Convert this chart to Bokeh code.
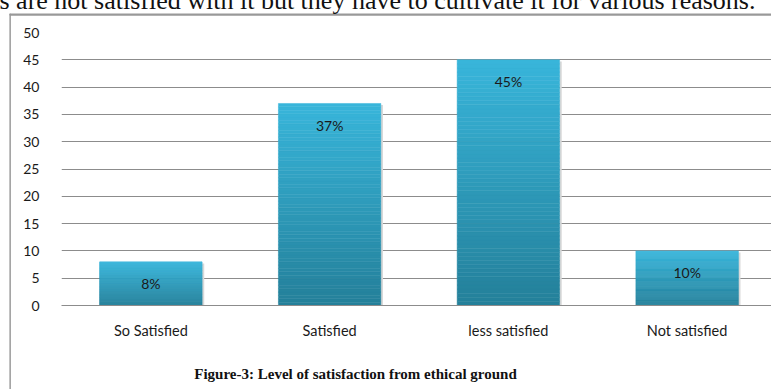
from bokeh.plotting import figure
from bokeh.models import Range1d, FixedTicker, Label
from bokeh.embed import file_html
from bokeh.resources import INLINE

cats = ["So Satisfied", "Satisfied", "less satisfied", "Not satisfied"]
values = [8, 37, 45, 10]
labels = ["8%", "37%", "45%", "10%"]
y_ticks = [0, 5, 10, 15, 20, 25, 30, 35, 40, 45, 50]
title_text = "Figure-3: Level of satisfaction from ethical ground"
above_text = "s are not satisfied with it but they have to cultivate it for various reasons."

W, H = 771, 389
p = figure(width=W, height=H, output_backend="svg", toolbar_location=None,
           x_range=Range1d(0, 3.972), y_range=Range1d(0, 50),
           min_border_left=61, min_border_right=0, min_border_top=32, min_border_bottom=84)
p.background_fill_color = "white"
p.border_fill_color = "white"
p.outline_line_color = None

xs = [i + 0.5 for i in range(len(cats))]
bw = 0.573

# gradient-filled bars built from slices of each value
top_c = (0x38, 0xb5, 0xda)
bot_c = (0x24, 0x80, 0x9a)
N = 60
L, R, B, T, C = [], [], [], [], []
for x, v in zip(xs, values):
    for k in range(N):
        f = k / (N - 1)
        col = tuple(int(round(bot_c[j] + (top_c[j] - bot_c[j]) * f)) for j in range(3))
        L.append(x - bw / 2); R.append(x + bw / 2)
        B.append(v * k / N); T.append(v * (k + 1) / N)
        C.append("#%02x%02x%02x" % col)
# soft shadow on right
p.quad(left=[x + bw / 2 for x in xs], right=[x + bw / 2 + 0.012 for x in xs],
       bottom=[0] * len(xs), top=[v - 0.3 for v in values], fill_color="#d8d8d8",
       line_color=None)
p.quad(left=L, right=R, bottom=B, top=T, fill_color=C, line_color=C, line_width=0.5)

p.text(x=xs, y=values, text=labels, text_align="center", text_baseline="middle",
       y_offset=22, text_font_size="14px", text_color="#1a1a1a",
       text_font={"value": "Lato"})

p.xaxis.ticker = FixedTicker(ticks=xs)
p.xaxis.major_label_overrides = {x: c for x, c in zip(xs, cats)}
p.xaxis.major_tick_line_color = None
p.xaxis.minor_tick_line_color = None
p.xaxis.axis_line_color = "#8c8c8c"
p.xaxis.major_label_standoff = 10
p.xaxis.major_label_text_font = "Lato"
p.xaxis.major_label_text_font_size = "14.5px"
p.xaxis.major_label_text_color = "#1a1a1a"

p.yaxis.ticker = FixedTicker(ticks=y_ticks)
p.yaxis.axis_line_color = None
p.yaxis.major_tick_line_color = None
p.yaxis.minor_tick_line_color = None
p.yaxis.major_label_standoff = 16
p.yaxis.major_label_text_font = "Lato"
p.yaxis.major_label_text_font_size = "14px"
p.yaxis.major_label_text_color = "#1a1a1a"

p.xgrid.grid_line_color = None
p.ygrid.grid_line_color = "#8c8c8c"
p.ygrid.grid_line_width = 1

# outer frame of the figure box: left edge (thin tall box) and top edge (thin wide box)
p.add_layout(Label(x=9.5, y=13.5, x_units="canvas", y_units="canvas", text=" ",
                   text_align="left", text_baseline="top", text_font_size="1px",
                   padding=(0, 0, 420, 0), border_line_color="#999999",
                   border_line_width=1.2, background_fill_color=None), "left")
p.add_layout(Label(x=9.5, y=13.5, x_units="canvas", y_units="canvas", text=" ",
                   text_align="left", text_baseline="top", text_font_size="1px",
                   padding=(0, 800, 0, 0), border_line_color="#999999",
                   border_line_width=1.2, background_fill_color=None), "above")

p.add_layout(Label(x=355, y=373, x_units="canvas", y_units="canvas",
                   text=title_text, text_align="center", text_baseline="middle",
                   text_font="Liberation Serif", text_font_style="bold",
                   text_font_size="15px", text_color="#111111"), "below")
p.add_layout(Label(x=-1, y=-0.5, x_units="canvas", y_units="canvas",
                   text=above_text, text_align="left", text_baseline="middle",
                   text_font="Liberation Serif", text_font_size="26px",
                   text_color="#111111"), "below")

open("out.html", "w").write(file_html(p, INLINE))
